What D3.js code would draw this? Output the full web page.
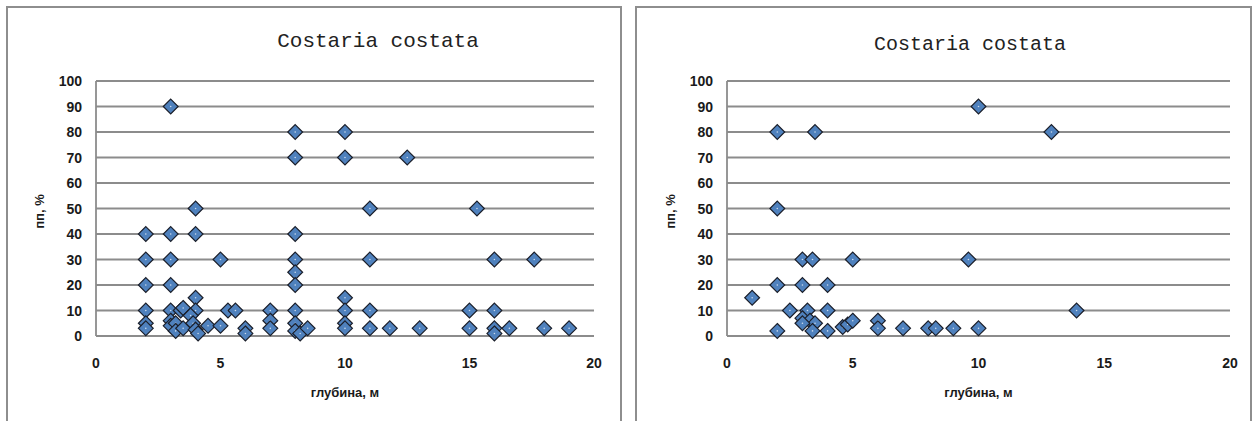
<!DOCTYPE html>
<html>
<head>
<meta charset="utf-8">
<script src="https://cdn.jsdelivr.net/npm/d3@7"></script>
<style>
  html, body { margin: 0; padding: 0; background: #fff; }
  svg { display: block; }
</style>
</head>
<body>
<svg id="chart" width="1256" height="421"></svg>
<script>
// ---------- data ----------
const chartTitle = "Costaria costata";
const xAxisTitle = "глубина, м";
const yAxisTitle = "пп, %";
const xTicks = [0, 5, 10, 15, 20];
const yTicks = [0, 10, 20, 30, 40, 50, 60, 70, 80, 90, 100];

// left chart: depth (m) and cover (%)
const leftDepth = [3, 4, 2, 3, 4, 2, 3, 5, 2, 3, 8, 10, 8, 10, 12.5, 11, 15.3, 8, 8, 8, 8, 11, 16, 17.6,
  10, 10, 10, 10, 11, 11, 11.8, 13, 15, 15, 16, 16, 16, 16.6, 18, 19,
  8, 8, 8, 8.2, 8.5, 7, 7, 7, 2, 2, 2,
  3, 3.4, 3.5, 3, 3, 3.2, 3.2, 3.5,
  4, 4, 3.8, 3.9, 4, 4.1, 4.5, 5, 5.3, 5.6, 6, 6];
const leftCover = [90, 50, 40, 40, 40, 30, 30, 30, 20, 20, 80, 80, 70, 70, 70, 50, 50, 40, 30, 25, 20, 30, 30, 30,
  15, 10, 5, 3, 10, 3, 3, 3, 10, 3, 10, 3, 1, 3, 3, 3,
  10, 5, 2, 1, 3, 10, 6, 3, 10, 5, 3,
  10, 10, 11, 6, 4, 5, 2, 3,
  15, 10, 8, 5, 2.5, 1, 4, 4, 10, 10, 3, 1];

// right chart: depth (m) and cover (%)
const rightDepth = [10, 2, 3.5, 12.9, 2, 3, 3.4, 5, 9.6, 2, 3, 4, 1,
  2.5, 3.2, 4, 13.9, 2, 4, 3, 3.3, 3.5, 3, 3.4,
  4.6, 4.8, 5, 6, 6, 7, 8, 8.3, 9, 10];
const rightCover = [90, 80, 80, 80, 50, 30, 30, 30, 30, 20, 20, 20, 15,
  10, 10, 10, 10, 2, 2, 7, 6, 5, 5, 2,
  3.5, 4.5, 6, 6, 3, 3, 3, 3, 3, 3];

// ---------- drawing ----------
const svg = d3.select("#chart");
const gridColor = "#8c8c8c";

function drawPanel(p) {
  const g = svg.append("g");
  // panel frame
  g.append("path")
    .attr("d", `M${p.frameX0},430 V${p.frameY} H${p.frameX1} V430`)
    .attr("fill", "none").attr("stroke", "#8e8e8e").attr("stroke-width", 2);

  const x = d3.scaleLinear().domain([0, 20]).range([p.left, p.right]);
  const y = d3.scaleLinear().domain([0, 100]).range([p.bottom, p.top]);

  // horizontal gridlines
  g.append("g").selectAll("line").data(yTicks).join("line")
    .attr("x1", p.left).attr("x2", p.right)
    .attr("y1", d => y(d)).attr("y2", d => y(d))
    .attr("stroke", gridColor).attr("stroke-width", 1.8);
  // vertical axis line
  g.append("line")
    .attr("x1", p.left).attr("x2", p.left)
    .attr("y1", y(100)).attr("y2", y(0))
    .attr("stroke", gridColor).attr("stroke-width", 1.8);

  // y tick labels
  g.append("g").selectAll("text").data(yTicks).join("text")
    .attr("x", p.left - 14).attr("y", d => y(d) + 5)
    .attr("text-anchor", "end")
    .attr("font-family", "Liberation Sans, Arial, sans-serif")
    .attr("font-weight", "bold").attr("font-size", 14)
    .attr("fill", "#1a1a1a")
    .text(d => d);
  // x tick labels
  g.append("g").selectAll("text").data(xTicks).join("text")
    .attr("x", d => x(d)).attr("y", 368)
    .attr("text-anchor", "middle")
    .attr("font-family", "Liberation Sans, Arial, sans-serif")
    .attr("font-weight", "bold").attr("font-size", 14)
    .attr("fill", "#1a1a1a")
    .text(d => d);

  // titles
  g.append("text")
    .attr("x", p.titleX).attr("y", p.titleY)
    .attr("text-anchor", "middle")
    .attr("font-family", "Liberation Mono, Courier New, monospace")
    .attr("font-size", p.titleSize).attr("fill", "#222")
    .text(chartTitle);
  g.append("text")
    .attr("x", (p.left + p.right) / 2).attr("y", 397)
    .attr("text-anchor", "middle")
    .attr("font-family", "Liberation Sans, Arial, sans-serif")
    .attr("font-weight", "bold").attr("font-size", 13)
    .attr("fill", "#1a1a1a")
    .text(xAxisTitle);
  g.append("text")
    .attr("transform", `translate(${p.left - 52},${(p.top + p.bottom) / 2 + 3}) rotate(-90)`)
    .attr("text-anchor", "middle")
    .attr("font-family", "Liberation Sans, Arial, sans-serif")
    .attr("font-weight", "bold").attr("font-size", 13)
    .attr("fill", "#1a1a1a")
    .text(yAxisTitle);

  // markers
  const pts = p.xs.map((v, i) => [v, p.ys[i]]);
  const sym = d3.symbol().type(d3.symbolDiamond2).size(140);
  const m = g.append("g").selectAll("g").data(pts).join("g")
    .attr("transform", d => `translate(${x(d[0])},${y(d[1])})`);
  m.append("path").attr("d", sym)
    .attr("fill", "#4f81bd").attr("stroke", "#1b1f2a").attr("stroke-width", 1.2);
  m.append("circle").attr("r", 0.8).attr("fill", "#fff").attr("opacity", 0.7);
}

drawPanel({
  frameX0: 7, frameX1: 621, frameY: 7,
  left: 96, right: 594, top: 81, bottom: 336,
  titleX: 378, titleY: 47, titleSize: 21,
  xs: leftDepth, ys: leftCover
});
drawPanel({
  frameX0: 636, frameX1: 1251, frameY: 7,
  left: 727, right: 1230, top: 81, bottom: 336,
  titleX: 970, titleY: 50, titleSize: 20,
  xs: rightDepth, ys: rightCover
});
</script>
</body>
</html>
